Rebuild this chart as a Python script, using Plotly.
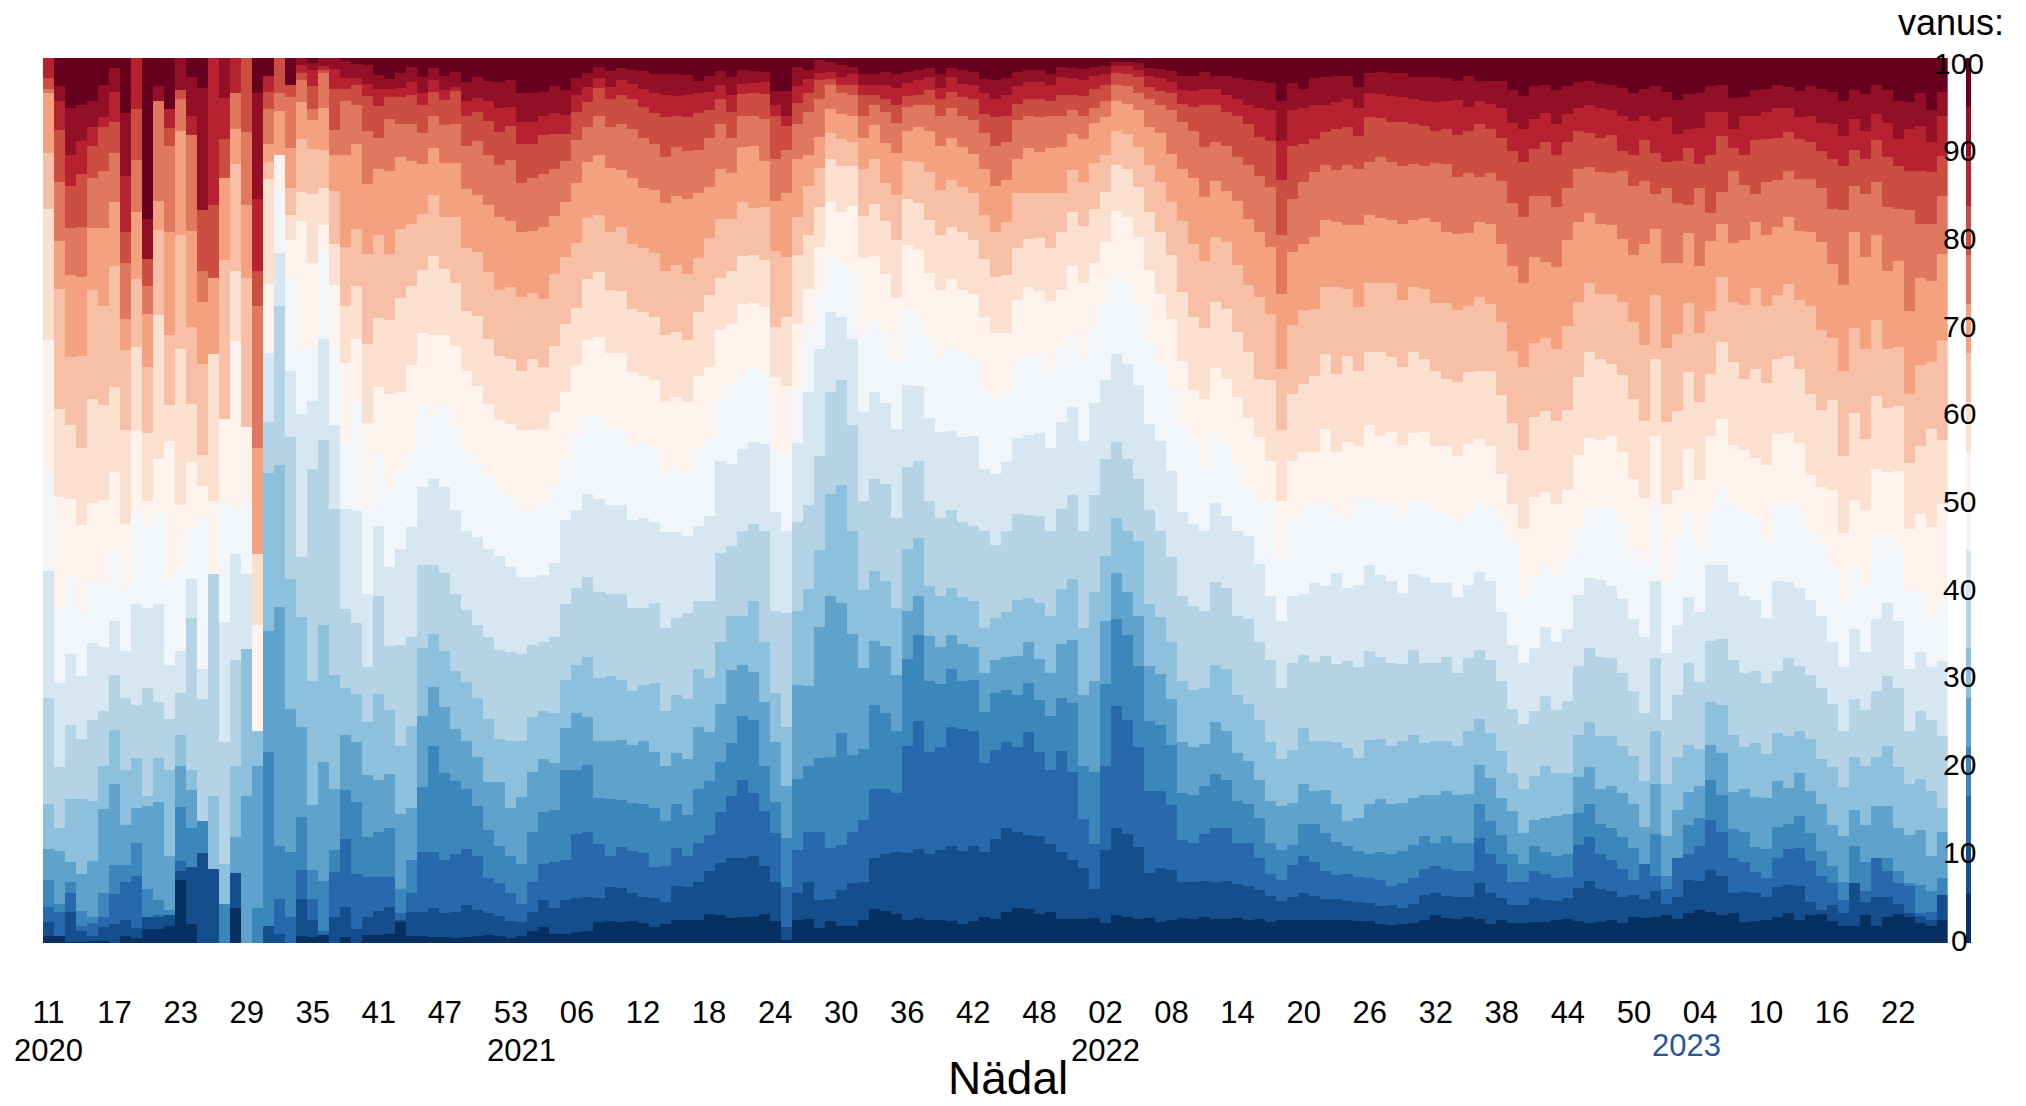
import numpy as np
import plotly.graph_objects as go

week_labels = ["11","17","23","29","35","41","47","53","06","12","18","24","30","36","42","48","02","08","14","20","26","32","38","44","50","04","10","16","22"]
week_tick_index = list(range(0, 173, 6))
colorbar_labels = [0,10,20,30,40,50,60,70,80,90,100]
band_colors = ["#053061","#144e8d","#2869ae","#3b86bb","#5fa3cd","#8cc0dc","#b4d4e6","#d6e7f1","#f1f6fa","#fdf3ec","#fbdfcf","#f7c0a6","#f3a17f","#e0775f","#cc4d41","#b6222f","#930f26","#67001f"]

# cumulative share (%) at the top of each age band, per week
b1 = [.9,.9,.2,.2,.3,.3,0,.9,.6,1.6,1.6,2,7.2,2.2,0,0,0,4,0,0,0,0,0,.9,.7,1,0,.7,0,1,1,1.1,
 2.4,.9,.8,.7,.7,.6,.7,.9,1,.9,.6,.9,1.4,1.9,1.1,1.1,1.3,1.4,2.4,2.5,2.4,2.5,2.3,1.9,2.2,2.6,
 2.7,2.7,3.3,3.2,2.9,3,3,3.3,2.5,.4,2.7,2.8,1.8,2.5,2,2,2.6,3.9,3.7,3.3,2.7,2.9,2.6,2.7,2.5,2.2,2.5,3,2.8,
 3.6,4,3.9,3.3,3.6,2.8,2.8,2.8,2.9,2.3,3.2,3,2.8,2.9,2.4,2.6,2.9,2.8,3,2.8,2.8,2.9,2.7,2.8,2.4,2.6,2.6,2.7,2.6,
 2.7,2.6,2.6,2.5,
 2.5,2.2,2.1,2.2,2.3,2.7,3.2,2.9,2.8,3,2.8,2.2,2.6,2.3,2.3,2.4,2.4,2.6,2.8,2.5,2.3,2.4,2.6,2.3,3,2.9,3,3.2,2.8,3.5,3.8,3.6,3.2,3.4,2.4,2.5,2.7,3,3.5,2.7,3.2,3.3,2.5,2,2,3.2,2,3,3.3,3,2.3,2,2.7]
b2 = [2.4,.9,3.6,1.4,.9,1.9,2.2,2.6,1.8,3,3,3.2,8.2,8.6,10.2,8.4,0,8,0,0,2,1.1,0,5,2.6,1,3,4.1,1.6,3,3.7,4.1,
 2.7,3.6,3.6,4,3.4,3.6,4.3,3.8,3.4,3.1,2.5,2.4,3.6,4.9,4,4.9,5.1,5.3,5.1,6.4,6.3,5.7,5.2,5.1,4.7,6.5,
 6.4,6.9,8.2,9.1,9.6,9.7,9.9,8.8,7,1.9,5.7,6.9,4.9,5,6,6.8,7,9.7,10.1,10.3,10.2,10.7,10.1,10.6,11,10.4,11,10.3,11.8,
 13.1,12.6,12.3,12.1,11.2,10.3,9.4,8.5,6.2,10.6,13.1,12.4,10.9,8,8.5,8.3,7,7,7.1,6.9,7.1,6.7,6.5,6,5.4,4.8,5.3,5.7,5.4,
 5,5,4.8,4.7,
 4.6,4.2,4.3,4,4.5,5.5,5.7,5.4,5.3,5.3,6.8,5.7,5.1,4.3,4.3,5.1,4.9,4.8,5.1,6.3,7.1,6.1,5.9,5.3,5.5,5,5.9,4.5,5.3,7.2,7.1,8.3,7.6,5.7,5.8,5.7,5.3,6.4,6.6,6.5,4.7,3.8,4.3,3.4,6.8,4.7,5.3,5.2,4.5,3.4,3.2,2.6,5.5]
b3 = [4.1,3.6,5.7,2,2.3,3,5.6,7,7.6,3,3.2,3.2,9.3,8.6,10.2,8.4,0,8,0,0,2,5,3,8.3,5,1.4,8.1,11.8,7.9,7.5,7.5,7.5,
 3.4,5.7,10.3,10.3,9.4,10.1,10.7,9.9,7.4,6.8,5.7,4.5,7,9,9.2,9.4,12.4,12.6,11.2,9.9,10.9,10.5,10.2,8.6,8.8,10.8,
 9.9,11.3,12.3,14.9,16.7,18.5,17,15,12.5,6.4,10.6,12.6,12.6,10.8,11.1,12.6,13.9,17.5,17.4,17,22.3,25.1,21.6,22.2,24.5,24.2,24,20.4,21.9,
 22.8,22.2,23.9,21.6,19.6,21.7,19.4,14.1,11.2,20,26.8,25.2,22.2,17.2,17.2,15.6,11.7,11.4,12.4,13.1,13,11.3,11.3,9.6,7.9,7.2,8.9,9.9,9.2,
 8.2,7.7,7.8,7.5,
 7.4,7.2,6.5,6.8,7.4,8.4,8.7,8.4,8.2,8.2,11.9,10.1,9,7,7,8.2,7.9,7.4,7.5,11.1,12,10.1,9.4,8.4,7.2,9,7.6,6.1,9.7,10.1,11,14,12.6,9.6,9.2,8.1,7.4,9.6,10.7,10.8,9.3,7.6,6.8,4.9,6.8,5.9,9.7,8.2,6.8,6.6,3.4,3.6,5.5]
b4 = [7.2,4.5,7,3.7,3,5.7,8.9,8.9,11.4,6.1,4.9,3.8,15.4,13,13.8,8.4,4.5,8,0,4,21.6,11,10.3,14.3,8.3,7.1,10.6,17.3,16,12,12.6,13.1,
 6.1,9.4,17.7,22.3,19.3,18.4,17.5,15.5,12.8,11,9.9,9,12.6,14.9,15.1,19.6,19.6,20.2,16.4,16.3,16.2,15.9,15.7,15.3,13.8,15.7,
 14.5,17.5,18.4,20.5,22.6,25.7,25.2,20,16,11.9,18.6,20.1,20.9,21.1,23.8,21.3,22,26.9,26,24,32.1,34.8,29.6,29.3,31,29.6,29.8,26.1,28.3,
 28.6,28.1,29.4,27.5,25.7,27.7,27.2,20,19.4,29.3,36.6,34.8,31.3,25.1,24.7,22.4,17,16.8,17.8,19.1,18.5,16.1,15.7,14.2,11.4,10.6,11.1,13.5,13.5,
 12.5,11.5,11,10.5,
 10.1,10.3,10.1,10.5,11.1,12.1,11.3,12.1,11.3,11.3,15.7,13.8,12.2,10.1,9,11,10.3,9.9,10.1,14.7,15.7,13.5,13,12,10.8,9,12.4,7.6,9.7,13.4,14.2,18.5,16.8,12.9,12.6,10.9,10.7,13.2,13.5,14.4,12.5,10.5,8.8,7,11,9.2,9.7,9.7,8.2,6.8,6.6,5.9,7.4]
b5 = [10.7,10.4,9.2,7.9,9.3,15.2,18,13.4,15.3,15.5,16,9.9,20,17.3,13.8,8.4,4.5,12,16.7,20,35.3,38,26.5,24.4,15.6,20.5,17.5,23.5,22.8,19,18.5,19.1,
 14.6,15.3,25.7,29,26.7,24.2,22.9,21.1,18.2,18.2,15.3,16.5,19.4,20.8,20.4,24.3,26,25.6,22.9,22.9,23,22.4,22.9,21.6,20,21.5,
 20.8,24.4,23.9,27,30.9,31.5,30.7,27.3,22.8,17.8,29.2,29.1,35.7,39.3,38.5,34.9,31.1,34.2,33.6,30.3,37.6,39.2,34.7,33.5,34.8,33.8,33.5,30.6,32,
 32.3,32.5,34,32.1,30.6,33.8,34.3,28.1,29.7,36.4,41.8,39.7,37,31.3,30.4,27.6,22.7,22.2,22.5,25,24,21.5,20.6,18.5,16.1,15.5,15.9,18,17.2,
 17.3,15.7,13.8,14.2,
 15.7,16.3,15.7,15.9,16.4,16.8,16.8,17.2,16.8,16.9,20.2,18.7,16.4,15,12.5,14,14.2,14.4,14.6,18.8,19.9,17.5,17.8,17,15.7,13.2,18,12.1,15.1,17.1,17.8,22.4,21.5,17.1,17.5,16.6,16.4,18.4,17.6,19.2,17.2,15.7,13.4,12.1,15.1,13.4,15.5,15.5,13,12.2,12.8,9.9,12.6]
b6 = [15.7,13,16.3,16.3,16.1,20,24.1,19.6,21,16.7,20.9,19.6,23.5,19.6,13.8,16.7,9,20,33.3,24,53.1,54,41.2,36.9,29.7,36,30.3,28.9,28.2,25,28.2,26.4,
 22.3,24.6,33.4,34.9,33,30.8,29.5,27.7,25.3,23.1,22.9,22.9,25.6,26.3,26,29.8,31.4,32.3,30,30.2,29.8,28.5,29.2,29.4,26.3,28.1,
 27.6,31,30,34,37,37,38.7,34.1,28.3,24.4,37.6,40,44.4,50.8,51.8,46.6,39.9,42.1,40.9,37.9,44.5,45.8,40.4,39.2,40.2,39.1,38.7,35.6,36.8,
 37.4,38.8,39,38.5,37,40,41.2,35.6,39.7,43.8,48,46.6,45.4,38.3,36.9,34.1,29.6,28.6,28.9,31.5,31,28.1,27,25.2,22.7,20.8,21.8,24.3,22.9,
 22.9,22.7,22.1,21,
 23,23.1,22.3,22.9,23.6,22.6,22.9,22.9,22.3,24,25.3,23.8,21.7,19.2,17.5,18.9,20,19.3,19.3,23.6,25,23.4,23.4,22.3,21.2,18.3,24,18,21.1,22.4,22,27.3,26.9,23.6,22.2,22.6,21.4,23.8,23.4,24,23.1,20.8,19.9,17.7,21.1,20,21.1,22.3,19.9,18,18.6,17.2,15.3]
b7 = [27.7,19.9,24.7,23.1,25.2,26.3,30.3,27.7,26.9,28.8,27.3,25.4,28.3,36.8,27.6,41.7,22.7,32,33.3,24,58.9,72,57.2,43.7,53.6,56.9,49.1,37.8,36.2,31.2,39.3,33.6,
 33.7,34.6,42.7,42.8,41.8,39.5,37.7,36,34.6,33.1,32.9,32.7,33.7,34.1,34.6,38.3,40.2,41.4,39.7,39.5,39.5,37.9,37.9,38.5,35.6,36.8,
 37.3,38.7,38.7,44.1,44.9,46.6,47.4,46.6,37.5,37.3,47.6,49.5,55,62.3,63.6,58.5,50,52.5,51.9,48,53.8,54.5,50,48,48.9,47.6,47.2,46.6,45,
 46.6,48.5,48.4,48.3,46.6,49.1,50.6,46.6,50.6,54.7,56.6,54.7,52.5,48.9,46.6,43.6,39.3,38.1,37.5,40.8,40.1,37,36.7,34.1,32,28.9,31.7,32.6,31.8,
 32.5,31.6,31.9,31.2,
 33,32.3,31.7,31.6,33.2,31.7,31.7,32.3,30.6,32.2,33.2,32,29.6,26.5,24.8,26.3,28,26.4,27.4,31.3,33.4,32.4,32.2,30.6,28.5,26,32.2,25.2,28.1,31.7,29.5,34.2,34.4,32,30.6,30.8,29.4,30.8,32.2,31.3,30.3,28.8,27.1,24,27.6,26.4,28.5,30.2,28.8,24,26.3,25.2,23.4]
b8 = [42.1,29.4,32.7,30.2,33.9,33.5,36.4,33,38.3,37.9,38.3,31.4,33,41.2,31,41.7,36.3,44,41.7,24,66.7,78,64.7,59.8,61.3,68.3,58.6,49.1,48.8,39.5,47.2,42.5,
 44.5,47,51.5,52.5,51.5,48.9,46.6,45.9,44.5,43.8,42.5,41.4,41.4,41.6,43,47.8,48.9,50.8,50.2,49.5,49.5,47.8,48,47.6,46.5,46.5,
 46,47.2,48.3,54.5,54.2,55.9,56.6,56.4,48.7,46.6,56.5,62.3,67.1,71.3,70.7,68.3,60,62.3,61,58.1,63.1,63,59.4,57.8,57.9,57.2,57.3,53.6,53,
 54.4,57.1,57.4,57.6,56,58.9,60.6,56.8,61,63.6,66.6,65.5,63.1,58.7,56.8,53.4,48.7,47.4,46.6,49.7,48.3,46.6,46,42.9,39.3,36.4,39.3,39.5,40.7,
 40.4,41.8,40.2,40.5,
 42.8,41.6,40.9,39.6,41.7,41.4,40.7,40.7,39.1,40.5,42,40.9,37.4,33.7,31.7,33.4,35.7,34,35.5,39.4,41.3,41,40.4,38.9,36.6,34.6,40.9,32.8,36,39.1,37.4,42.8,42.7,40.8,39.3,38.8,36.8,40.9,40.8,40.2,38.8,37,34.1,31.2,35.5,32.9,36.6,38.5,36.4,31,32.9,31.2,31.9]
b9 = [53.4,37.9,41.4,37.5,40.8,40.5,44.2,40.2,48.9,47,48.7,41.2,42.4,46.6,48.1,41.7,50,49.1,50,24,66.7,85,75.1,67.3,67.1,78.3,67.1,56.4,61.1,49.1,55.3,51.2,
 53.1,55.5,60.9,59.6,60.8,58.3,55.5,54.2,53,51.2,50.4,48.9,48.9,50,51.7,54.7,57.4,59.6,59.6,58.1,58.1,56.2,56.4,55.7,53.4,53.8,
 53.4,55.9,57.1,61.5,63.3,64,65,64.3,55.7,55.2,62.5,69.8,73.2,77.7,77,75.8,69,70.4,68.9,65.6,71.7,70.9,68.5,66.4,67.4,66.8,66.2,62.6,61.4,
 62.3,65.6,66.3,66.3,64.8,67.4,69,66.2,69.5,72.2,75.6,74.7,72.2,67.9,65.6,62.5,58.3,57,53.8,57.6,56.4,54.2,51.5,50,49.9,43.4,47.8,48.9,49.7,
 49.8,48.5,48.3,50.2,
 50.4,49.6,49.4,48.5,50,49.8,48.8,48.5,47.5,48.5,49.6,49.2,47.5,45.4,39,41.6,42.6,41.4,43.7,47,49.5,49.3,49.4,47.5,44.5,43.1,49.4,40.8,45.8,48.6,44.9,48.9,51.2,49.7,48.9,48,45.4,49.4,49.8,49.2,46.5,44.9,42.7,38.7,42.4,40.4,45.8,46.2,44.9,39.8,39.8,37,38.7]
b10 = [68.1,50.4,50.2,47.3,49.7,50.1,53.3,47.4,57.9,50,54.7,56.8,49.5,54.4,51.7,50,59.2,68,58.3,36,74.5,89.1,79.4,81.6,76.8,81.1,74.4,65.6,68.3,58.8,62.9,62.1,
 62.3,65.3,68.9,68.7,68.7,67.5,64.7,63,60.9,59.1,58.7,58,58,58.1,60,62.3,65.3,68.1,68.5,66.7,66.7,64.5,64.1,63.6,61.1,61.7,
 61.1,64.1,65.1,69.3,70,72.2,72.3,71.9,64,63,70,73.9,78.7,83.9,82.6,83.3,77.4,77.6,75.6,72.9,78.9,78.3,75.7,73.8,75,73.8,73.4,70.8,68.9,
 69,72.7,74.1,73.7,72.6,73.8,76.5,74.6,76.9,79.2,82.7,82,79.8,76.1,73.4,70.5,65.8,62.5,61.5,65,63.7,61.7,59.3,57.2,54.5,50,54.5,55.5,55.5,
 58.1,55.5,56.6,56.2,
 58.5,57.3,57.8,56.3,57.6,57.8,56.2,56.2,55,56.4,57,56.2,53,49.6,46.8,50.4,51,49.6,51.2,55.2,57.1,56.9,57.3,55.5,52.5,50.3,57.3,49.6,51.2,55.9,52.3,57.3,59.2,56.3,55.7,54.8,54,57.5,57.6,56.5,52.9,51.5,51.2,46.4,50.1,48.9,53.6,53.2,53.4,46.8,48.5,47,49.6]
b11 = [82.9,60.4,58.5,56,61.5,60.8,62.9,58,67.4,57.6,71,60.8,67.1,60.9,55.2,66.6,59.2,76,58.3,44,86.3,89.1,82.3,84.9,84.6,85.3,79,72,74.3,67.7,70.6,70.4,
 72.9,74.2,76.1,77.6,76.2,74.6,71.4,70.9,68.3,66.3,66,64.7,66,65.1,67.5,70,71.8,75,75.8,73.8,73.7,71.7,71.3,70.7,68.7,69.1,
 68.1,71.3,73.2,75.1,75.9,77.6,77.8,77.2,69.6,70.7,77.8,80,83.2,88.6,87.8,87.8,82.2,83.5,81.6,79.4,84.1,83.6,81.7,80,80.9,80.3,79.5,77.3,75.3,
 75.5,78.5,79.6,79.7,78.6,80.3,82.6,81,82.9,84.9,87.9,87.5,85.4,82.6,80.3,77.7,73.6,70.7,69.5,72.4,71.7,69.1,66.8,63.8,63.6,58,62.1,63.2,64.1,
 66.6,64.3,66.3,64.7,
 66.8,66.8,66.2,65.1,66.8,66,64.7,63.8,63.4,64.5,64.7,64.6,61.9,58.8,55.7,59.5,60.1,59,60.2,64,66.8,66,65.5,64.2,61.5,59,66,58.9,60.1,64.5,61.1,64.3,67.9,65.7,63.7,64.9,63.3,66,66.3,64.9,62.1,60.2,61.4,55,59.9,57,61.8,60.5,60.7,54.3,56.2,58.1,56.9]
b12 = [89.3,73.9,66.2,66.4,73.8,72,76.5,67,75,65.1,80.6,68.7,80,69.6,65.5,66.6,77.2,88,75.1,44,88.3,89.1,85.3,90.8,89.7,89.6,85,78.7,80.7,77.9,80,77.9,
 80.7,81.3,82.4,84.5,82,82,78.5,78.1,75.8,73.8,74.1,73,73.5,72.8,75.6,77.5,79.1,81.9,82.3,80.3,80.9,79,78.5,78,76,76.6,
 75.6,77.4,79.7,81.8,81.8,83.7,83.1,83.2,78.2,77.5,82.1,85.5,87.6,91.5,90.8,90.5,87.5,88.6,85.9,84.5,88.4,88.2,87.1,85.1,86.2,85.4,84.7,82.3,80.4,
 81.5,84.7,84.7,84.7,84.7,84.7,87.3,86,88.1,89.1,91.8,91.4,89.9,87.9,86,83.7,81.6,79,77.1,79.8,79.2,76.6,74.4,73,71.1,64.9,69.8,71.5,71.7,
 74.1,74.1,73.9,71.9,
 74.6,74.6,74.6,72.7,74.1,73.9,72.3,72.3,71.5,72,73,72.2,70.2,66.9,65.1,67.8,68.4,67.1,69.7,72.5,74.6,73.4,73.4,72.5,70.2,67.6,73.2,67.3,68.8,72.3,68.9,71.4,75.3,72.5,72.1,74,72,73.2,74.5,72.7,72,69.3,68.4,64.6,69.5,67.1,70.4,67.1,67.4,62.1,65.3,65.7,68]
b13 = [96,79.3,75.5,75.3,80.8,80.8,83.7,70.5,82.6,71.1,83.8,80.3,91.8,80.5,72.5,75.1,86.4,92,83.4,56,90.3,94,89.8,95,93,94.3,89,89,90.3,85.8,87.5,87.2,
 88.8,88.4,88,89.8,88.1,88.1,85.2,84.5,83.4,82.1,81.6,80.3,80.5,80.9,82.2,83.7,85.9,88.2,89.1,87.6,87.4,86.4,85.3,85.1,83.6,84.4,
 84.1,84.7,85.4,87.5,87,89.9,90.1,88.4,83.8,84.8,88.6,89.1,91.1,94.2,93.7,93.4,91,92.4,90.4,89.3,91.8,92.2,91.8,90.1,91,89.9,89.2,87.5,85.6,
 86.2,88.6,89.8,89.4,89.8,90,91.4,90.9,92.7,93.3,95.1,94.8,94.1,92.2,91.5,89.2,87.5,86.4,84.3,86.1,85,83.9,81.8,80.3,78.7,73.4,78.1,79,79.8,
 81.7,81.5,81.1,81.1,
 82.3,81.9,81.7,81.3,81.7,81.9,81.5,80.4,80.1,80.2,81.5,81.3,79,76.5,74.6,77.5,77,76.4,79.4,81.5,82.5,81.3,81.1,79.6,77.7,79,80.7,76.9,76.9,80.2,76.5,79.3,81.3,79.1,79.4,81.5,80,80.9,82.1,80.5,80.4,79.2,76.7,74.4,80.4,77.5,80,76,77.1,71.4,75.2,74.8,77.9]
b14 = [96.5,86,80.8,80.9,86.4,87.2,89.3,76.8,88.5,74.3,95.2,90.1,95.4,91.3,75.9,75.1,86.4,96,91.7,72,94.2,96,95.6,97.5,94.2,98.4,91.9,95.2,94.7,91.8,91,93.1,
 92.6,92.5,91.5,93.4,92.4,92.6,90.1,90.6,89,87.9,88.5,85.9,86.4,86.9,87.5,88.4,90.7,92.2,93.5,92.2,92.6,92,91,90.3,88.8,89.9,
 89.5,89.6,91,92.6,91,93.5,93.4,93.1,88.6,89.6,92.5,93.9,95.4,96.9,96,95.8,93.5,94.7,93.9,92.7,94.5,94.7,94.7,93.5,94.3,93.4,93,91.5,90.1,
 90.5,93,93.5,93.3,93.4,93.4,94.1,93.4,94.4,95.2,97,96.8,96,95.4,94.7,94.1,92.8,91.8,89.9,90.5,90.1,88.8,87.9,86.7,85.4,80,84.1,86,87.1,
 87.9,87.3,87.9,87.5,
 88.3,88.8,88.2,87.8,88,87.8,88.1,88,86.6,87,86.6,87,86.1,83.6,82.1,84.4,84.4,83.2,85.3,87.5,87.7,87.1,87,87.2,85.5,86.1,84.6,85.3,83.6,83.4,85.3,82.5,84.9,87.2,85.7,84.6,86,86.2,87.2,86.3,86.3,85.3,83,82.8,85.5,84.6,86,83.2,82.9,82.8,81.3,81.3,84.4]
b15 = [97.7,91.9,85.5,86.9,90.1,92.2,92.8,80.4,94.2,77.3,95.2,92.1,96.4,91.3,82.8,83.4,90.9,96,100,76,96.2,100,97,98.3,96.8,98.6,96.5,96.5,96.9,95.7,94.6,95.6,
 95.6,95.8,94.7,96.2,95.3,96.3,93.4,93.9,92.9,91.6,92.3,90.3,90.3,91.3,91.4,91.4,93.9,95,96.6,95.4,95.8,95.4,94.5,93.8,93.3,93.4,
 93.3,93.8,94.1,95.4,93.9,95.9,96,95.9,93.5,92.3,94.9,96,97.5,97.6,96.9,97,95.8,95.8,95.4,94.7,95.7,95.8,96.4,95.4,96.2,95.6,95.4,93.7,93.3,
 93.4,94.8,95.4,95.4,95.2,95.8,95.8,95.7,96.5,96.9,98.3,98.2,97.9,96.7,96.3,96,94.8,94.5,94.7,94.7,93.9,93.4,92.6,91.1,90.6,86.2,90.1,90.3,90.9,
 91.6,92,92.2,91.2,
 93.3,93.2,92.8,92.8,92.6,92.3,91.8,92,91.3,91.8,92.6,92,91,89.5,88.2,89.7,90.5,89,90.5,91.8,91.5,91,91.3,89.5,89.1,90.7,89.3,88.3,88.4,89.8,88,89,91.2,89.8,89,90.7,90.9,91,91.6,90.9,90.5,89.5,88.6,87.8,89.6,88.6,90.7,88.8,87.8,87.2,87.2,87.1,88.9]
b16 = [100,95.1,89,90.6,92.2,93.3,96.2,86.7,100,77.3,95.2,94.2,96.4,93.5,82.8,100,95.5,100,100,84.1,98,100,97,99.2,98.7,99.1,98.8,97.7,97.7,97.1,96.5,96.5,
 96.6,97.3,96.1,97.5,96.4,96.7,95.1,95.5,95.1,94.3,94.5,92.8,92.8,93.5,93.8,93.6,95.8,96.7,97.7,96.7,97.5,97.1,96.5,96.1,95.8,95.7,
 95.8,96,96.2,97,95.8,97.1,97.2,97.3,94.7,93.4,96.8,97.6,98.3,98.4,97.9,98.2,97,97,96.9,96.6,97.2,97.5,97.9,96.6,97.9,97.1,96.9,96,95.4,
 95.8,96.8,97.3,97.3,96.9,97.9,97.7,97.5,98,98.2,99.1,99.1,98.7,98,97.7,97.3,96.4,96.3,96.5,96.5,95.8,95.4,94.7,94.4,94.1,90.6,94.1,94.3,94.7,
 94.7,95,95.4,94.3,
 96,95.9,95.7,95.6,95.4,95.2,95,95.1,95.3,94.5,95.2,94.8,94.3,92.7,92,93.1,93.8,92.6,93.7,94.3,94.7,94.3,94.1,93.5,92.9,93.5,92.9,93.3,91.4,92,92.1,93.9,93.9,92,93.5,93.5,93.9,94.3,94.3,93.3,93.5,92.7,92.6,91.2,93.1,91.8,93.7,92.7,90.9,92,92.3,90.5,93.5]
b17 = [100,96.8,94.4,94.7,95.2,96.9,98.9,93.8,100,81.8,96.8,94.2,100,97.9,96.6,100,100,100,100,96,98,100,97,100,99.4,100,100,99.7,99.3,99.2,98.1,97.6,
 98.3,99,97.9,98.9,98,98.4,97.3,97.9,97.4,97.3,97.5,96,96,96.2,96.8,96.4,97.7,98.3,99,98.5,98.9,98.7,98.5,98.2,98.2,98.2,
 98.1,97.4,98,98.5,97.9,98.6,98.5,98.4,96.3,96.3,99,98.6,99.8,99.5,99.2,99,98.2,98.2,98.4,98.2,98.4,98.6,98.9,98.2,98.9,98.6,98.4,97.6,97.5,
 97.7,98.4,98.6,98.6,98.2,99,98.9,98.8,99,99.1,99.5,99.5,99.4,98.9,98.8,98.5,98,98,98.4,98,98,97.7,97.5,97.4,97.2,95.1,97.2,96.5,97.7,
 97.9,98,98,96.7,
 98.3,98.4,98.3,98.3,97.9,97.9,97.9,97.7,97.4,98,97.4,97.4,97.4,96.4,95.7,96.8,96.9,96.4,96.8,97.3,97.4,97.1,96.9,96.6,96,96.5,96.8,96.2,95.3,95.9,96.1,96.8,96.9,95.5,95.6,96.4,96.5,96.9,96.7,96.3,96.8,96.5,96.2,95.1,96.4,95.9,97,96.4,95.1,95,96.1,94.1,96.2]

tops = [b1,b2,b3,b4,b5,b6,b7,b8,b9,b10,b11,b12,b13,b14,b15,b16,b17]
for k,t in enumerate(tops):
    assert len(t)==173, (k+1,len(t))
tops = np.array(tops+[[100]*173],dtype=float)
tops = np.maximum.accumulate(tops,axis=0)
shares = np.diff(np.vstack([np.zeros(173),tops]),axis=0)
weeks = np.arange(173)

W,H = 2026,1106
L,R,T,B = 43,1947.7,57.5,943
fig = go.Figure()
for k,c in enumerate(band_colors):
    fig.add_trace(go.Bar(x=weeks,y=shares[k],marker=dict(color=c,line=dict(width=0)),xaxis="x",yaxis="y",showlegend=False,hoverinfo="skip"))
    fig.add_trace(go.Bar(x=[0],y=[100/18],marker=dict(color=c,line=dict(width=0)),xaxis="x2",yaxis="y2",showlegend=False,hoverinfo="skip"))

FONT="Liberation Sans"
ann=[]
for v in colorbar_labels:
    ann.append(dict(x=1959/W,xref="paper",y=v,yref="y2",text=str(v),showarrow=False,xanchor="center",yanchor="middle",yshift=3-0.085*v,font=dict(family=FONT,size=30,color="#000")))
for txt,idx,py,col in [("2020",0,1050,"#000"),("2021",43,1050,"#000"),("2022",96,1050,"#000"),("2023",148.8,1045,"#2b5597")]:
    ann.append(dict(x=idx,xref="x",y=1-py/H,yref="paper",text=txt,showarrow=False,xanchor="center",yanchor="middle",font=dict(family=FONT,size=31,color=col)))
ann.append(dict(x=1008/W,xref="paper",y=1-1078/H,yref="paper",text="Nädal",showarrow=False,xanchor="center",yanchor="middle",font=dict(family=FONT,size=46,color="#000")))
ann.append(dict(x=1951/W,xref="paper",y=1-22/H,yref="paper",text="vanus:",showarrow=False,xanchor="center",yanchor="middle",font=dict(family=FONT,size=36,color="#000")))

fig.update_layout(width=W,height=H,autosize=False,margin=dict(l=0,r=0,t=0,b=0,autoexpand=False),paper_bgcolor="white",plot_bgcolor="white",
    barmode="stack",bargap=0,showlegend=False,annotations=ann,
    xaxis=dict(domain=[L/W,R/W],range=[-.5,172.5],tickmode="array",tickvals=week_tick_index,ticktext=week_labels,ticks="",showgrid=False,zeroline=False,showline=False,automargin=False,
               ticklabelstandoff=48,tickangle=0,tickfont=dict(family=FONT,size=31,color="#000")),
    yaxis=dict(domain=[1-B/H,1-T/H],range=[0,100],visible=False),
    xaxis2=dict(domain=[1966/W,1971/W],range=[-.5,.5],visible=False),
    yaxis2=dict(domain=[1-B/H,1-T/H],range=[0,100],visible=False,anchor="x2"))
fig.write_html("out.html",post_script="document.body.style.margin='0';",config={"displayModeBar":False})
